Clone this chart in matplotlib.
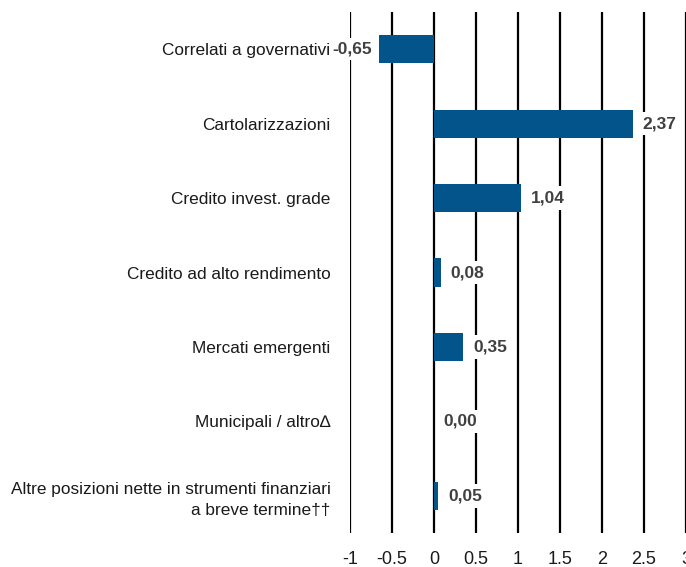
import matplotlib.pyplot as plt
import numpy as np

plt.rcParams['font.family'] = ['Liberation Sans Narrow', 'Liberation Sans', 'DejaVu Sans']

categories = [
    "Correlati a governativi",
    "Cartolarizzazioni",
    "Credito invest. grade",
    "Credito ad alto rendimento",
    "Mercati emergenti",
    "Municipali / altro\u2206",
    "Altre posizioni nette in strumenti finanziari\na breve termine\u2020\u2020",
]
values = [-0.65, 2.37, 1.04, 0.08, 0.35, 0.00, 0.05]
xticks = [-1, -0.5, 0, 0.5, 1, 1.5, 2, 2.5, 3]
xticklabels = ["-1", "-0.5", "0", "0.5", "1", "1.5", "2", "2.5", "3"]

bar_color = "#03548A"

fig = plt.figure(figsize=(6.86, 5.67), dpi=100)
ax = fig.add_axes([350 / 686, 1 - 533 / 567, 336 / 686, 521 / 567])

y = np.arange(len(categories))
ax.barh(y, values, height=0.38, color=bar_color, zorder=3)

# vertical grid lines drawn by hand so tick labels can sit on top of the value boxes
for xt in xticks:
    ax.axvline(xt, color="black", linewidth=1.6, zorder=1)

ax.set_xlim(-1, 3)
ax.set_ylim(len(categories) - 0.5, -0.5)
ax.set_xticks(xticks)
ax.set_xticklabels(xticklabels, fontsize=13, color="#1a1a1a")
ax.set_yticks(y)
ax.set_yticklabels(categories, fontsize=12.4, color="#1a1a1a")
for lab in ax.get_yticklabels():
    lab.set_linespacing(1.5)
ax.tick_params(axis="both", length=0)
ax.tick_params(axis="x", pad=13)
ax.tick_params(axis="y", pad=14)
for s in ax.spines.values():
    s.set_visible(False)
ax.xaxis.set_zorder(5)
ax.yaxis.set_zorder(5)

for yi, v in zip(y, values):
    txt = f"{v:.2f}".replace(".", ",")
    if v < 0:
        ax.annotate(txt, (v, yi), xytext=(-5, 0), textcoords="offset points",
                    ha="right", va="center", fontsize=12.5, fontweight="bold",
                    color="#404040", zorder=4,
                    bbox=dict(boxstyle="square,pad=0.2", fc="white", ec="none"))
    else:
        ax.annotate(txt, (v, yi), xytext=(7, 0), textcoords="offset points",
                    ha="left", va="center", fontsize=12.5, fontweight="bold",
                    color="#404040", zorder=4,
                    bbox=dict(boxstyle="square,pad=0.25", fc="white", ec="none"))

fig.savefig("out.png", dpi=100)
